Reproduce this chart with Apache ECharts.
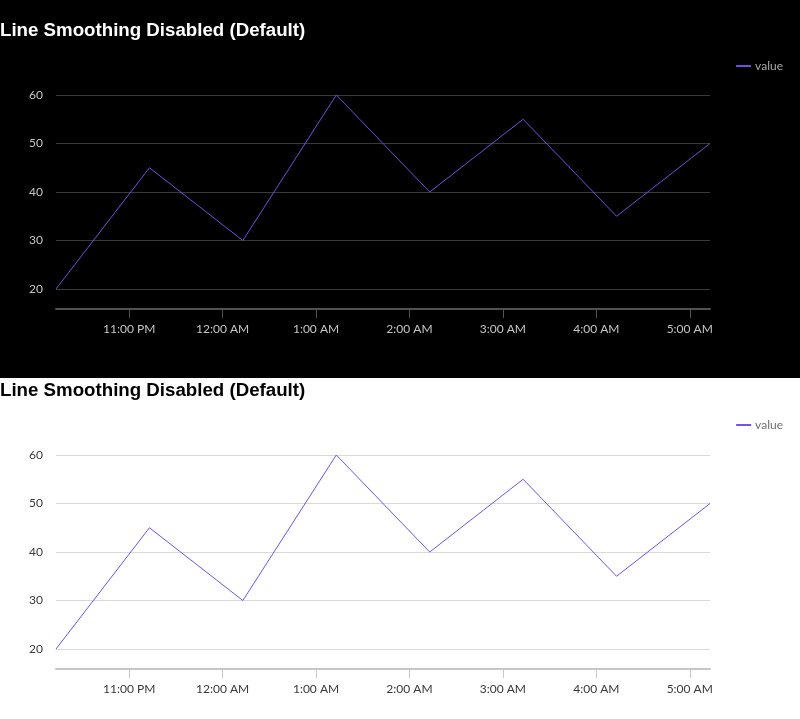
<!DOCTYPE html>
<html>
<head>
    <meta charset="utf-8">
    <title>Line Smoothing Disabled</title>
    <script src="https://cdn.jsdelivr.net/npm/echarts@6/dist/echarts.min.js"></script>
    <style>
        html, body { margin: 0; padding: 0; background: #ffffff; }
        #dark { position: absolute; left: 0; top: 0; width: 800px; height: 378px; background: #000000; }
        #light { position: absolute; left: 0; top: 378px; width: 800px; height: 341px; background: #ffffff; }
    </style>
</head>
<body>
<div id="dark"></div>
<div id="light"></div>
<script>
    // hourly readings, starting 22:13
    var times = [
        [2024, 0, 1, 22, 13], [2024, 0, 1, 23, 13], [2024, 0, 2, 0, 13], [2024, 0, 2, 1, 13],
        [2024, 0, 2, 2, 13], [2024, 0, 2, 3, 13], [2024, 0, 2, 4, 13], [2024, 0, 2, 5, 13]
    ];
    var values = [20, 45, 30, 60, 40, 55, 35, 50];
    var yTicks = { min: 20, max: 60, interval: 10 };
    var titleText = 'Line Smoothing Disabled (Default)';
    var seriesName = 'value';

    function fmtHour(v) {
        var d = new Date(v);
        var h = d.getHours();
        var ap = h < 12 ? 'AM' : 'PM';
        h = h % 12;
        if (h === 0) h = 12;
        var m = d.getMinutes();
        return h + ':' + (m < 10 ? '0' + m : m) + ' ' + ap;
    }

    function buildOption(t) {
        var data = times.map(function (a, i) {
            return [new Date(a[0], a[1], a[2], a[3], a[4]).getTime(), values[i]];
        });
        return {
            backgroundColor: t.bg,
            animation: false,
            textStyle: { fontFamily: 'Lato' },
            title: {
                text: titleText,
                left: -5,
                top: t.titleTop,
                textStyle: { fontFamily: 'Liberation Sans', fontSize: 18.7, fontWeight: 'bold', color: t.title }
            },
            legend: {
                data: [seriesName],
                right: 12,
                top: t.legendTop,
                itemWidth: 15,
                itemHeight: 2,
                itemGap: 5,
                icon: 'rect',
                textStyle: { color: t.legendText, fontSize: 12, fontFamily: 'Lato', padding: [0, 0, 0, -1] }
            },
            grid: { left: 56, right: 90, top: t.gridTop, bottom: t.gridBottom },
            xAxis: {
                type: 'time',
                min: 'dataMin',
                max: 'dataMax',
                offset: 20,
                minInterval: 3600 * 1000,
                maxInterval: 3600 * 1000,
                axisLine: { show: true, lineStyle: { color: t.axis, width: 2 } },
                axisTick: { show: true, length: 9, lineStyle: { color: t.axis, width: 1 } },
                axisLabel: {
                    color: t.label,
                    fontSize: 12,
                    margin: 14,
                    formatter: function (v) { return fmtHour(v); }
                },
                splitLine: { show: false }
            },
            yAxis: {
                type: 'value',
                min: yTicks.min,
                max: yTicks.max,
                interval: yTicks.interval,
                axisLine: { show: false },
                axisTick: { show: false },
                axisLabel: { color: t.label, fontSize: 12, margin: 13 },
                splitLine: { lineStyle: { color: t.split, width: 1 } }
            },
            series: [{
                name: seriesName,
                type: 'line',
                smooth: false,
                showSymbol: false,
                data: data,
                itemStyle: { color: t.line },
                lineStyle: { color: t.line, width: 1 }
            }]
        };
    }

    var darkTheme = {
        bg: '#000000', title: '#ffffff', legendText: '#a8a8a8', label: '#c6c6c6',
        axis: '#525252', split: '#393939', line: '#6e4fe0',
        titleTop: 16, legendTop: 55, gridTop: 95, gridBottom: 89
    };
    var lightTheme = {
        bg: '#ffffff', title: '#000000', legendText: '#6f6f6f', label: '#393939',
        axis: '#c6c6c6', split: '#d9d9d9', line: '#7350f0',
        titleTop: -2, legendTop: 36, gridTop: 77, gridBottom: 70
    };

    var darkChart = echarts.init(document.getElementById('dark'));
    darkChart.setOption(buildOption(darkTheme));
    var lightChart = echarts.init(document.getElementById('light'));
    lightChart.setOption(buildOption(lightTheme));

    window.onresize = function () {
        darkChart.resize();
        lightChart.resize();
    };
</script>
</body>
</html>
